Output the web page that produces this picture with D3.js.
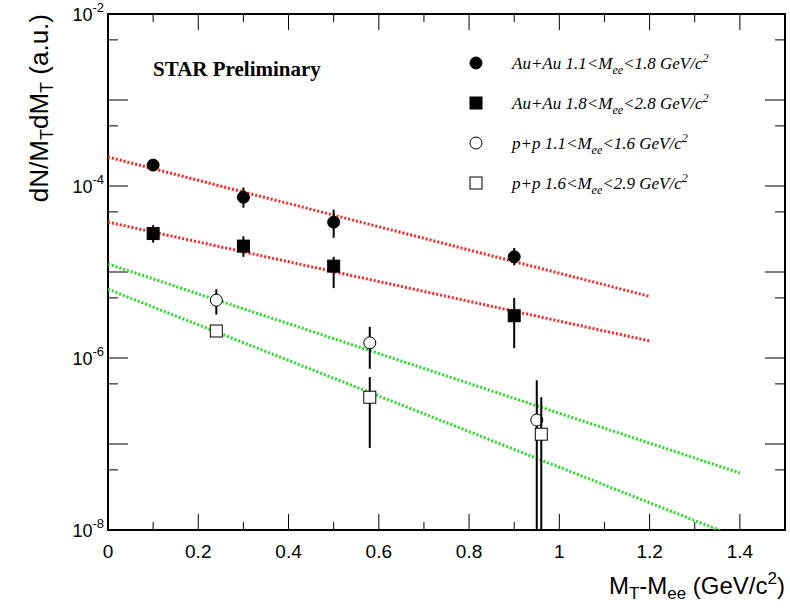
<!DOCTYPE html>
<html><head><meta charset="utf-8">
<script src="https://cdn.jsdelivr.net/npm/d3@7"></script>
<style>body{margin:0;background:#fff}</style>
</head><body>
<svg id="c" width="790" height="608"></svg>
<script>
// data
const auLowX = [0.1, 0.3, 0.5, 0.9];
const auLowY = [1.75e-4, 7.4e-5, 3.8e-5, 1.5e-5];
const auLowLo = [1.5e-4, 5.6e-5, 2.5e-5, 1.2e-5];
const auLowHi = [2.0e-4, 9.6e-5, 5.3e-5, 1.9e-5];
const auHighX = [0.1, 0.3, 0.5, 0.9];
const auHighY = [2.8e-5, 2.0e-5, 1.17e-5, 3.1e-6];
const auHighLo = [2.2e-5, 1.5e-5, 6.5e-6, 1.3e-6];
const auHighHi = [3.5e-5, 2.6e-5, 1.5e-5, 5.0e-6];
const ppLowX = [0.24, 0.58, 0.95];
const ppLowY = [4.7e-6, 1.5e-6, 1.9e-7];
const ppLowLo = [3.2e-6, 7.5e-7, 1e-8];
const ppLowHi = [6.3e-6, 2.3e-6, 5.5e-7];
const ppHighX = [0.24, 0.58, 0.96];
const ppHighY = [2.06e-6, 3.5e-7, 1.3e-7];
const ppHighLo = [1.8e-6, 9e-8, 1e-8];
const ppHighHi = [2.3e-6, 6e-7, 3.5e-7];
const fitX = [[0, 1.2], [0, 1.2], [0, 1.4], [0, 1.4]];
const fitY = [[2.17e-4, 5.2e-6], [3.8e-5, 1.58e-6], [1.24e-5, 4.6e-8], [6.3e-6, 8e-9]];
const fitColor = ['#ff2020', '#ff2020', '#22dd22', '#22dd22'];
const xTicks = [0, 0.2, 0.4, 0.6, 0.8, 1, 1.2, 1.4];
const yDecades = [-2, -4, -6, -8];
const legend = [
  {m: 'circle', f: '#000', t: ['Au+Au 1.1<M', 'ee', '<1.8 GeV/c', '2']},
  {m: 'square', f: '#000', t: ['Au+Au 1.8<M', 'ee', '<2.8 GeV/c', '2']},
  {m: 'circle', f: '#fff', t: ['p+p 1.1<M', 'ee', '<1.6 GeV/c', '2']},
  {m: 'square', f: '#fff', t: ['p+p 1.6<M', 'ee', '<2.9 GeV/c', '2']}
];

const svg = d3.select('#c');
const L = 108, R = 785, T = 14, B = 530;
const x = d3.scaleLinear().domain([0, 1.5]).range([L, R]);
const y = d3.scaleLog().domain([1e-8, 1e-2]).range([B, T]);

svg.append('clipPath').attr('id', 'cp').append('rect')
  .attr('x', L).attr('y', T).attr('width', R - L).attr('height', B - T);

// frame
svg.append('rect').attr('x', L).attr('y', T).attr('width', R - L).attr('height', B - T)
  .attr('fill', 'none').attr('stroke', '#000').attr('stroke-width', 2);

// x ticks: major every 0.2, minor every 0.1, bottom and top
d3.range(0, 15).forEach(k => {
  const v = k / 10;
  const len = k % 2 === 0 ? 16 : 8;
  svg.append('line').attr('x1', x(v)).attr('x2', x(v)).attr('y1', B).attr('y2', B - len).attr('stroke', '#000');
  svg.append('line').attr('x1', x(v)).attr('x2', x(v)).attr('y1', T).attr('y2', T + len).attr('stroke', '#000');
});
svg.selectAll('.xl').data(xTicks).enter().append('text')
  .attr('x', d => x(d)).attr('y', B + 28).attr('text-anchor', 'middle')
  .attr('font-family', 'Liberation Sans, Arial, sans-serif').attr('font-size', 19)
  .text(d => d3.format('~g')(d));

// y ticks: long at each decade, short at 5x
for (let e = -8; e < -2; e++) {
  [[1, 20], [5, 10]].forEach(([k, len]) => {
    const v = k * Math.pow(10, e);
    svg.append('line').attr('x1', L).attr('x2', L + len).attr('y1', y(v)).attr('y2', y(v)).attr('stroke', '#000');
    svg.append('line').attr('x1', R).attr('x2', R - len).attr('y1', y(v)).attr('y2', y(v)).attr('stroke', '#000');
  });
}
yDecades.forEach(e => {
  const t = svg.append('text').attr('x', L - 4).attr('y', y(Math.pow(10, e)) + 7)
    .attr('text-anchor', 'end').attr('font-family', 'Liberation Sans, Arial, sans-serif').attr('font-size', 18);
  t.append('tspan').text('10');
  t.append('tspan').attr('dy', -9).attr('font-size', 13).text(e);
});

// fit lines
const g = svg.append('g').attr('clip-path', 'url(#cp)');
fitX.forEach((xs, i) => {
  g.append('line').attr('x1', x(xs[0])).attr('x2', x(xs[1]))
    .attr('y1', y(fitY[i][0])).attr('y2', y(fitY[i][1]))
    .attr('stroke', fitColor[i]).attr('stroke-width', 3).attr('stroke-dasharray', '2,2');
});

// points
function series(xs, ys, lo, hi, marker, fill) {
  xs.forEach((xv, i) => {
    g.append('line').attr('x1', x(xv)).attr('x2', x(xv)).attr('y1', y(lo[i])).attr('y2', y(hi[i]))
      .attr('stroke', '#000').attr('stroke-width', 2);
    drawMarker(g, x(xv), y(ys[i]), marker, fill);
  });
}
function drawMarker(p, cx, cy, marker, fill) {
  if (marker === 'circle') p.append('circle').attr('cx', cx).attr('cy', cy).attr('r', 6)
    .attr('fill', fill).attr('stroke', '#000');
  else p.append('rect').attr('x', cx - 6).attr('y', cy - 6).attr('width', 12).attr('height', 12)
    .attr('fill', fill).attr('stroke', '#000');
}
series(auLowX, auLowY, auLowLo, auLowHi, 'circle', '#000');
series(auHighX, auHighY, auHighLo, auHighHi, 'square', '#000');
series(ppLowX, ppLowY, ppLowLo, ppLowHi, 'circle', '#fff');
series(ppHighX, ppHighY, ppHighLo, ppHighHi, 'square', '#fff');

// legend
legend.forEach((d, i) => {
  const ly = 63 + i * 40;
  drawMarker(svg, 476, ly, d.m, d.f);
  const t = svg.append('text').attr('x', 512).attr('y', ly + 6)
    .attr('font-family', 'Liberation Serif, Times New Roman, serif').attr('font-style', 'italic').attr('font-size', 17);
  t.append('tspan').text(d.t[0]);
  t.append('tspan').attr('dy', 5).attr('font-size', 12).text(d.t[1]);
  t.append('tspan').attr('dy', -5).text(d.t[2]);
  t.append('tspan').attr('dy', -7).attr('font-size', 12).text(d.t[3]);
});

svg.append('text').attr('x', 153).attr('y', 76)
  .attr('font-family', 'Liberation Serif, Times New Roman, serif').attr('font-weight', 'bold').attr('font-size', 21)
  .text('STAR Preliminary');

// axis titles
const xt = svg.append('text').attr('x', 785).attr('y', 594).attr('text-anchor', 'end')
  .attr('font-family', 'Liberation Sans, Arial, sans-serif').attr('font-size', 24);
xt.append('tspan').text('M');
xt.append('tspan').attr('dy', 5).attr('font-size', 17).text('T');
xt.append('tspan').attr('dy', -5).text('-M');
xt.append('tspan').attr('dy', 5).attr('font-size', 17).text('ee');
xt.append('tspan').attr('dy', -5).text(' (GeV/c');
xt.append('tspan').attr('dy', -10).attr('font-size', 17).text('2');
xt.append('tspan').attr('dy', 10).text(')');

const yt = svg.append('text').attr('transform', 'translate(48,14) rotate(-90)').attr('text-anchor', 'end')
  .attr('font-family', 'Liberation Sans, Arial, sans-serif').attr('font-size', 26);
yt.append('tspan').text('dN/M');
yt.append('tspan').attr('dy', 5).attr('font-size', 18).text('T');
yt.append('tspan').attr('dy', -5).text('dM');
yt.append('tspan').attr('dy', 5).attr('font-size', 18).text('T');
yt.append('tspan').attr('dy', -5).text(' (a.u.)');
</script>
</body></html>
